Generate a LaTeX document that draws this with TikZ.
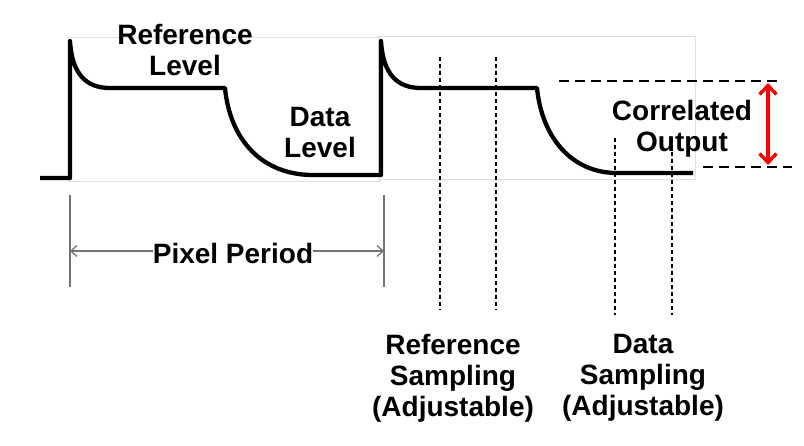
\documentclass[tikz,border=0pt]{standalone}
\usepackage{fontspec}
\setmainfont{Liberation Sans}
\usetikzlibrary{positioning,arrows.meta}

\begin{document}
\begin{tikzpicture}[x=1pt,y=-1pt,
    lbl/.style={font=\bfseries\fontsize{28}{31}\selectfont, align=center, inner sep=0pt},
    wave/.style={line width=4.3pt, line join=round},
    frame/.style={draw=black!12, line width=0.8pt},
    sample/.style={dash pattern=on 4pt off 3pt, line width=1.3pt},
    level/.style={dash pattern=on 10pt off 6pt, line width=1.3pt},
    span/.style={draw=black!55, line width=1.3pt},
    spantip/.style={-{Straight Barb[length=6pt,width=11pt]}}]
    \useasboundingbox (0,0) rectangle (804,446);

    % Frames
    \draw[frame] (68,37) rectangle (380,181);
    \draw[frame] (378,36) rectangle (695,179);

    % Waveform
    \draw[wave] (40,178) -- (70,178) -- (70,41)
        .. controls (72,74) and (86,88) .. (110,88) -- (225,88)
        .. controls (230,140) and (262,175) .. (313,175) -- (381,175) -- (381,41)
        .. controls (383,74) and (397,88) .. (421,88) -- (537,88)
        .. controls (542,138) and (572,173) .. (617,173) -- (693,173);

    % Sampling
    \foreach \xs in {440,496} \draw[sample] (\xs,57) -- (\xs,310);
    \foreach \xs in {615,672} \draw[sample] (\xs,138) -- (\xs,315);

    % Levels
    \coordinate (reftop) at (768,83);
    \coordinate (datbot) at (768,165);
    \draw[level] (559,81) -- (782,81);
    \draw[level] (703,167) -- (792,167);
    \draw[red, line width=3.4pt,
        {Straight Barb[length=9pt,width=17pt]}-{Straight Barb[length=9pt,width=17pt]}]
        (reftop) -- (datbot);

    % Pixel period
    \coordinate (pa) at (70,251);
    \coordinate (pb) at (384,251);
    \draw[span] (70,195) -- (70,287);
    \draw[span] (384,195) -- (384,287);
    \draw[span, spantip] (233,251) -- (pb);
    \draw[span, spantip] (233,251) -- (pa);

    % Labels
    \node[lbl] (reflvl) at (185,50) {Reference\\Level};
    \node[lbl] (datlvl) at (320,133) {Data\\Level};
    \node[lbl] (corr) at (682,129) {Correlated\\Output};
    \node[lbl, fill=white] (period) at (233,253) {Pixel Period};
    \node[lbl] (refsmp) at (453,378) {Reference\\Sampling\\(Adjustable)};
    \node[lbl] (datsmp) at (643,378) {Data\\Sampling\\(Adjustable)};
\end{tikzpicture}
\end{document}
